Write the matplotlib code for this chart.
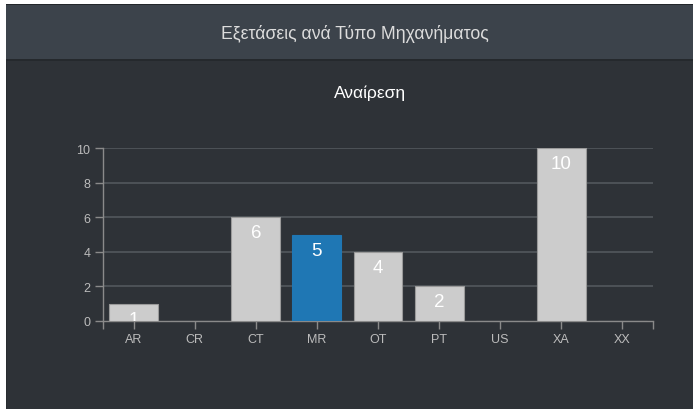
import matplotlib
matplotlib.use("Agg")
import matplotlib.pyplot as plt
from matplotlib.patches import Rectangle

categories = ["AR", "CR", "CT", "MR", "OT", "PT", "US", "XA", "XX"]
values = [1, 0, 6, 5, 4, 2, 0, 10, 0]
highlight = "MR"
yticks = [0, 2, 4, 6, 8, 10]
header_title = "Εξετάσεις ανά Τύπο Μηχανήματος"
chart_title = "Αναίρεση"

W, H = 693, 410
fig = plt.figure(figsize=(W / 100, H / 100), dpi=100)
fig.patch.set_facecolor("#2e3237")

def frect(x0, y0, x1, y1, color, z=0):
    # pixel coords from top-left
    fig.patches.append(Rectangle((x0 / W, 1 - y1 / H), (x1 - x0) / W, (y1 - y0) / H,
                                 transform=fig.transFigure, facecolor=color,
                                 edgecolor="none", zorder=z))

frect(0, 0, W, 5, "#ffffff")
frect(0, 0, 6, H, "#ffffff")
frect(6, 5, W, 6, "#23272b")
frect(6, 6, W, 60, "#3c434b")
frect(6, 60, W, 62, "#25292d")
frect(6, 62, 7, H, "#282c30")

sans = ["Liberation Sans", "DejaVu Sans"]
fig.text(355 / W, 1 - 34 / H, header_title, ha="center", va="center",
         fontsize=12.7, color="#dcdcdc", family=sans)
fig.text(370 / W, 1 - 93 / H, chart_title, ha="center", va="center",
         fontsize=12.5, color="#ffffff", family=sans)

ax = fig.add_axes([103 / W, 88 / H, 550 / W, (260.7 - 88) / H])
ax.set_facecolor("none")
x = list(range(len(categories)))
colors = ["#1f77b4" if c == highlight else "#cccccc" for c in categories]
edges = ["#1f77b4" if c == highlight else "#9a9a9a" for c in categories]
ax.bar(x, values, width=0.8, color=colors, edgecolor=edges, linewidth=0.8, zorder=3)
ax.set_xlim(-0.5, len(categories) - 0.5)
ax.set_ylim(0, 10)
ax.set_yticks(yticks)
ax.set_xticks(x)
ax.set_xticklabels(categories)
ax.set_xticks([-0.5, len(categories) - 0.5], minor=True)
for yv in yticks[1:]:
    ax.axhline(yv, color="#53585d", lw=1.2, zorder=1)

for s in ["top", "right"]:
    ax.spines[s].set_visible(False)
for s in ["left", "bottom"]:
    ax.spines[s].set_color("#8a8a8a")
    ax.spines[s].set_linewidth(1)
ax.tick_params(axis="both", which="both", colors="#8a8a8a", length=6, width=1)
ax.tick_params(axis="x", which="major", pad=3)
ax.tick_params(axis="y", pad=3)
for lab in ax.get_xticklabels() + ax.get_yticklabels():
    lab.set_color("#bcbcbc")
    lab.set_fontsize(9)
    lab.set_family(sans)

for xi, v in zip(x, values):
    if v > 0:
        ax.annotate(str(v), (xi, v), xytext=(0, -20), textcoords="offset pixels",
                    ha="center", va="baseline", color="#ffffff", fontsize=13.5,
                    family=sans, zorder=4, annotation_clip=False, clip_on=True)

fig.savefig("out.png", dpi=100, facecolor=fig.get_facecolor())
